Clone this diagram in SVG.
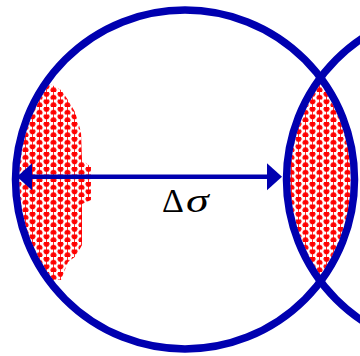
<svg xmlns="http://www.w3.org/2000/svg" width="360" height="356" viewBox="0 0 360 356">
  <style>
    .ring { fill: none; stroke: #0000B0; stroke-width: 7.5; }
    .arrow { stroke: #0000B0; stroke-width: 4.5; fill: none; }
    .label { font-family: "Liberation Serif", "Times New Roman", serif; font-size: 34px; fill: #000; }
  </style>
  <defs>
    <pattern id="dots" patternUnits="userSpaceOnUse" x="1" y="2" width="14" height="7.5">
      <line x1="3.5" y1="0" x2="3.5" y2="7.5" stroke="#ff3030" stroke-width="1"/>
      <line x1="10.5" y1="0" x2="10.5" y2="7.5" stroke="#ff3030" stroke-width="1"/>
      <circle cx="3.5" cy="1.9" r="2.9" fill="#ff0000"/>
      <circle cx="10.5" cy="5.65" r="2.9" fill="#ff0000"/>
      <line x1="0" y1="1.9" x2="1.5" y2="1.9" stroke="#ff4040" stroke-width="0.9"/>
      <line x1="5.5" y1="1.9" x2="7" y2="1.9" stroke="#ff4040" stroke-width="0.9"/>
      <line x1="7" y1="5.65" x2="8.5" y2="5.65" stroke="#ff4040" stroke-width="0.9"/>
      <line x1="12.5" y1="5.65" x2="14" y2="5.65" stroke="#ff4040" stroke-width="0.9"/>
    </pattern>
    <clipPath id="inLeft"><circle cx="185" cy="179.5" r="166"/></clipPath>
    <clipPath id="inRight"><circle cx="456" cy="179.5" r="166"/></clipPath>
    <marker id="head" markerUnits="userSpaceOnUse" markerWidth="16" markerHeight="28" refX="7" refY="13.5" orient="auto-start-reverse">
      <path d="M0,0 L15,13.5 L0,27 Z" fill="#0000B0"/>
    </marker>
  </defs>

  <g id="left-region" clip-path="url(#inLeft)">
    <polygon fill="url(#dots)" points="10,83 48,83 54,86 61,90 68,100 75,112 81,132 82,160 91,167 91,200 82,204 82,245 76,256 68,262 61,280 10,280"/>
  </g>

  <g id="lens-region" clip-path="url(#inLeft)">
    <g clip-path="url(#inRight)">
      <rect x="280" y="70" width="80" height="220" fill="url(#dots)"/>
    </g>
  </g>

  <g id="left-circle">
    <circle class="ring" cx="185" cy="179.5" r="169.5"/>
  </g>
  <g id="right-circle">
    <circle class="ring" cx="456" cy="179.5" r="169.5"/>
  </g>

  <g id="connectors">
    <line class="arrow" x1="25" y1="176.8" x2="274" y2="176.8" marker-start="url(#head)" marker-end="url(#head)"/>
  </g>

  <g id="label">
    <text class="label" x="162" y="212">Δ</text>
    <text class="label" font-style="italic" transform="translate(186,212) scale(1.35,1)">σ</text>
  </g>
</svg>
